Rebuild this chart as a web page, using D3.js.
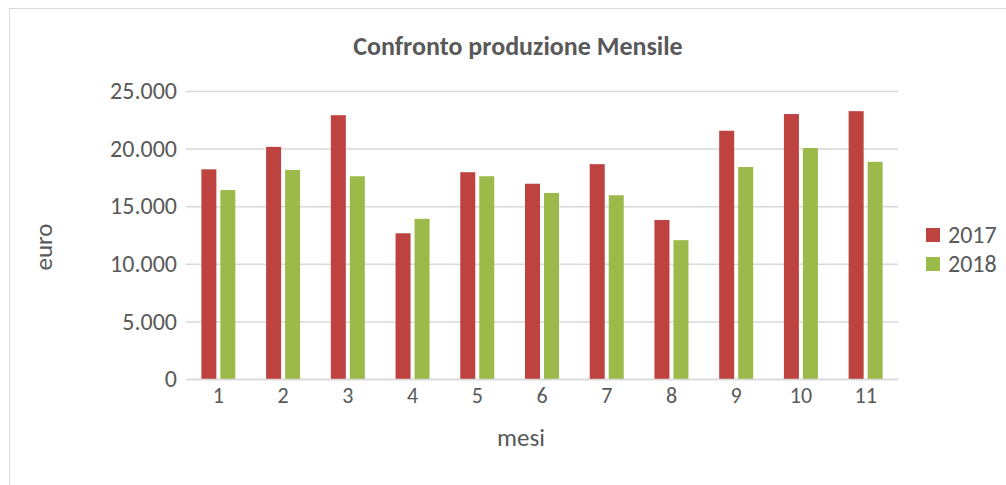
<!DOCTYPE html>
<html>
<head>
<meta charset="utf-8">
<script src="https://cdn.jsdelivr.net/npm/d3@7"></script>
<style>
  body { margin: 0; background: #fff; }
  svg { display: block; }
</style>
</head>
<body>
<div id="chart"></div>
<script>
const months = ["1", "2", "3", "4", "5", "6", "7", "8", "9", "10", "11"];
const values2017 = [18200, 20150, 22900, 12650, 17950, 16950, 18650, 13800, 21550, 23000, 23250];
const values2018 = [16400, 18150, 17600, 13900, 17600, 16150, 15950, 12050, 18400, 20050, 18850];
const yTicks = [0, 5000, 10000, 15000, 20000, 25000];
const seriesNames = ["2017", "2018"];
const colours = ["#be4340", "#9bba4a"];

const width = 1006;
const height = 485;
const margin = { top: 91, right: 108, bottom: 106, left: 186 };
const graphW = width - margin.left - margin.right;
const graphH = height - margin.top - margin.bottom;
const font = "Carlito, 'Open Sans', sans-serif";
const textCol = "#595959";

const svg = d3.select("#chart").append("svg")
    .attr("width", width)
    .attr("height", height);

// chart frame
svg.append("rect")
    .attr("x", 9.5).attr("y", 8.5)
    .attr("width", width + 10).attr("height", height + 10)
    .attr("fill", "#fff")
    .attr("stroke", "#d9d9d9");

svg.append("text")
    .attr("x", 518).attr("y", 55)
    .attr("text-anchor", "middle")
    .style("font-family", font)
    .style("font-weight", 700)
    .style("font-size", "26px")
    .attr("fill", textCol)
    .text("Confronto produzione Mensile");

const group = svg.append("g")
    .attr("transform", `translate(${margin.left}, ${margin.top})`);

// scales
const x = d3.scaleBand().domain(months).range([0, graphW]);
const y = d3.scaleLinear().domain([0, 25000]).range([graphH, 0]);
const fmt = d => d3.format(",")(d).replace(/,/g, ".");

// gridlines
group.append("g")
    .attr("class", "grid")
    .call(d3.axisLeft(y).tickValues(yTicks).tickSize(-graphW).tickFormat(""))
    .call(g => g.select(".domain").remove())
    .call(g => g.selectAll("line").attr("stroke", "#d9d9d9").attr("stroke-width", 1.5));

// y axis labels
group.append("g")
    .call(d3.axisLeft(y).tickValues(yTicks).tickSize(0).tickPadding(9).tickFormat(fmt))
    .call(g => g.select(".domain").remove())
    .call(g => g.selectAll("text")
        .style("font-family", font)
        .style("font-size", "24px")
        .attr("fill", textCol));

// bars
const barW = 15;
const gap = 4;
const series = [values2017, values2018];
series.forEach((vals, i) => {
    group.append("g")
        .selectAll("rect")
        .data(vals)
        .enter()
        .append("rect")
        .attr("fill", colours[i])
        .attr("x", (d, j) => x(months[j]) + x.bandwidth() / 2 - barW - gap / 2 + i * (barW + gap))
        .attr("y", d => y(d))
        .attr("width", barW)
        .attr("height", d => graphH - y(d));
});

// x axis
group.append("g")
    .attr("transform", `translate(0, ${graphH})`)
    .call(d3.axisBottom(x).tickSize(0).tickPadding(8))
    .call(g => g.select(".domain").attr("stroke", "#d9d9d9").attr("stroke-width", 1.5))
    .call(g => g.selectAll("text")
        .style("font-family", font)
        .style("font-size", "22px")
        .attr("fill", textCol));

// axis titles
svg.append("text")
    .attr("x", 521).attr("y", 446)
    .attr("text-anchor", "middle")
    .style("font-family", font)
    .style("font-size", "25px")
    .attr("fill", textCol)
    .text("mesi");

svg.append("text")
    .attr("transform", `translate(52, 247) rotate(-90)`)
    .attr("text-anchor", "middle")
    .style("font-family", font)
    .style("font-size", "25px")
    .attr("fill", textCol)
    .text("euro");

// legend
const legend = svg.append("g")
    .attr("transform", "translate(926, 228)");
seriesNames.forEach((name, i) => {
    const row = legend.append("g").attr("transform", `translate(0, ${i * 29})`);
    row.append("rect")
        .attr("width", 14).attr("height", 14)
        .attr("fill", colours[i]);
    row.append("text")
        .attr("x", 22).attr("y", 14.5)
        .style("font-family", font)
        .style("font-size", "24px")
        .attr("fill", textCol)
        .text(name);
});
</script>
</body>
</html>
